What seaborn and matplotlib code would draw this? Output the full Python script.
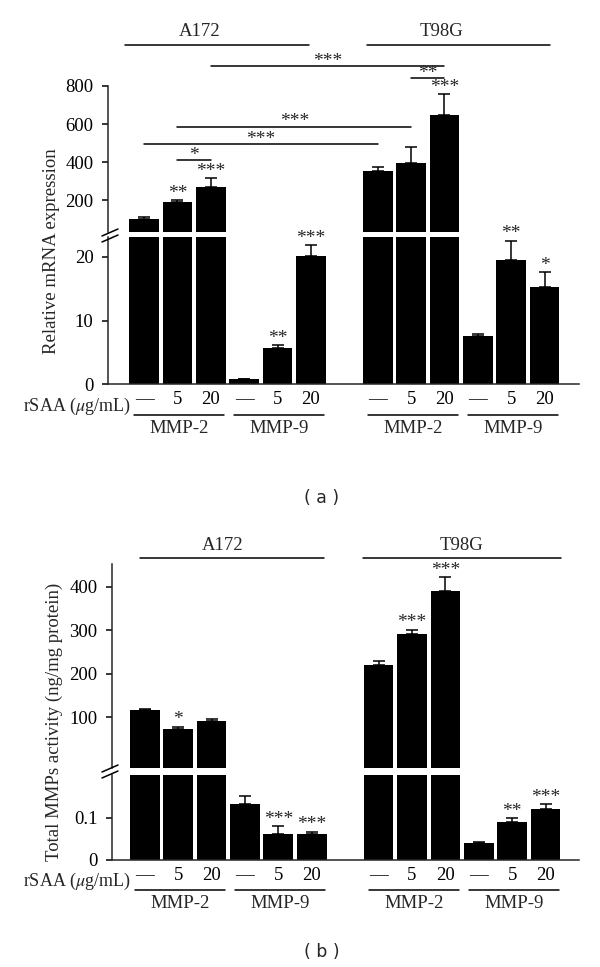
import matplotlib
matplotlib.use('Agg')
import matplotlib.pyplot as plt
import matplotlib.transforms as mtransforms
from matplotlib.lines import Line2D
import numpy as np
import pandas as pd
import seaborn as sns


# ── Data ──────────────────────────────────────────────────────────────────────
cells = ['A172', 'T98G']
genes = ['MMP-2', 'MMP-9']
doses = ['—', '5', '20']
positions = [0, 1, 2, 3, 4, 5, 7, 8, 9, 10, 11, 12]

# (a) relative mRNA expression, mean and upper error
mrna_a172_mmp2 = [100, 190, 268]
mrna_a172_mmp2_err = [10, 10, 48]
mrna_a172_mmp9 = [0.9, 5.7, 20.1]
mrna_a172_mmp9_err = [0.0, 0.45, 1.7]
mrna_t98g_mmp2 = [354, 396, 646]
mrna_t98g_mmp2_err = [21, 83, 112]
mrna_t98g_mmp9 = [7.6, 19.5, 15.2]
mrna_t98g_mmp9_err = [0.35, 3.0, 2.4]
mrna_sig = ['', '**', '***', '', '**', '***', '', '', '***', '', '**', '*']

# (b) total MMP activity (ng/mg protein)
act_a172_mmp2 = [117, 73, 91]
act_a172_mmp2_err = [2, 4.6, 4.6]
act_a172_mmp9 = [0.132, 0.061, 0.061]
act_a172_mmp9_err = [0.019, 0.018, 0.006]
act_t98g_mmp2 = [220, 290, 390]
act_t98g_mmp2_err = [10, 11, 32]
act_t98g_mmp9 = [0.039, 0.089, 0.119]
act_t98g_mmp9_err = [0.004, 0.009, 0.012]
act_sig = ['', '*', '', '', '***', '***', '', '***', '***', '', '**', '***']

# pairwise comparisons in (a): bar a, bar b, height (px), label
mrna_pairs = [(2, 9, 66, '***'), (8, 9, 78, '**'), (1, 8, 127, '***'),
              (0, 7, 144, '***'), (1, 2, 160, '*')]


def make_df(groups, errs, sigs):
    rows = []
    i = 0
    for c in cells:
        for g in genes:
            vals, ers = groups[(c, g)], errs[(c, g)]
            for d, v, e in zip(doses, vals, ers):
                rows.append({'pos': positions[i], 'cell': c, 'gene': g, 'dose': d,
                             'value': v, 'err': e, 'sig': sigs[i]})
                i += 1
    return pd.DataFrame(rows)


mrna = make_df({('A172', 'MMP-2'): mrna_a172_mmp2, ('A172', 'MMP-9'): mrna_a172_mmp9,
                ('T98G', 'MMP-2'): mrna_t98g_mmp2, ('T98G', 'MMP-9'): mrna_t98g_mmp9},
               {('A172', 'MMP-2'): mrna_a172_mmp2_err, ('A172', 'MMP-9'): mrna_a172_mmp9_err,
                ('T98G', 'MMP-2'): mrna_t98g_mmp2_err, ('T98G', 'MMP-9'): mrna_t98g_mmp9_err},
               mrna_sig)
act = make_df({('A172', 'MMP-2'): act_a172_mmp2, ('A172', 'MMP-9'): act_a172_mmp9,
               ('T98G', 'MMP-2'): act_t98g_mmp2, ('T98G', 'MMP-9'): act_t98g_mmp9},
              {('A172', 'MMP-2'): act_a172_mmp2_err, ('A172', 'MMP-9'): act_a172_mmp9_err,
               ('T98G', 'MMP-2'): act_t98g_mmp2_err, ('T98G', 'MMP-9'): act_t98g_mmp9_err},
              act_sig)


# ── Style ─────────────────────────────────────────────────────────────────────
sns.set_theme(style='ticks')
plt.rcParams['font.family'] = ['Liberation Serif', 'DejaVu Serif']
plt.rcParams['mathtext.fontset'] = 'stix'
FS = 13.5
STAR = 14
LW = 1.1

W, H = 600, 967
fig = plt.figure(figsize=(W / 100, H / 100), dpi=100)


def fx(x):
    return x / W


def fy(y):
    return 1 - y / H


def box(left, top, right, bottom):
    return [fx(left), fy(bottom), (right - left) / W, (bottom - top) / H]


def hline(x0, x1, y, transform=None):
    ln = Line2D([x0, x1], [y, y], color='black', lw=LW)
    if transform is not None:
        ln.set_transform(transform)
    fig.add_artist(ln)


def slashes(x0, x1, y_pairs):
    for ya, yb in y_pairs:
        fig.add_artist(Line2D([fx(x0), fx(x1)], [fy(ya), fy(yb)], color='black', lw=LW))


# ── Panel helper ──────────────────────────────────────────────────────────────
def draw_panel(df, hi_box, lo_box, hi_lim, lo_lim, hi_ticks, lo_ticks, lo_labels,
               xlim, tick_y, group_y, label_y, ylabel, ylabel_xy):
    ax_hi = fig.add_axes(hi_box)
    ax_lo = fig.add_axes(lo_box)
    big = df[df.gene == 'MMP-2']
    small = df[df.gene == 'MMP-9']

    sns.barplot(data=big, x='pos', y='value', native_scale=True, color='black',
                saturation=1, width=0.89, errorbar=None, linewidth=0, ax=ax_hi)
    # bars of the upper segment start at the segment's lower limit
    for p in ax_hi.patches:
        top = p.get_y() + p.get_height()
        p.set_y(hi_lim[0])
        p.set_height(top - hi_lim[0])
    sns.barplot(data=df, x='pos', y='value', native_scale=True, color='black',
                saturation=1, width=0.89, errorbar=None, linewidth=0, ax=ax_lo)

    for ax, d in ((ax_hi, big), (ax_lo, small)):
        ax.errorbar(d.pos, d.value, yerr=[np.zeros(len(d)), d.err], fmt='none',
                    ecolor='black', elinewidth=LW, capsize=4.3, capthick=LW, zorder=3)
        for _, r in d.iterrows():
            if r.sig:
                ax.annotate(r.sig, (r.pos, r.value + r.err), xytext=(0, 5),
                            textcoords='offset points', ha='center', va='center',
                            fontsize=STAR, annotation_clip=False)

    ax_hi.set_ylim(*hi_lim)
    ax_lo.set_ylim(*lo_lim)
    ax_hi.set_yticks(hi_ticks)
    ax_hi.set_yticklabels([str(t) for t in hi_ticks])
    ax_lo.set_yticks(lo_ticks)
    ax_lo.set_yticklabels(lo_labels)
    for ax in (ax_hi, ax_lo):
        ax.set_xlim(*xlim)
        ax.set_xlabel('')
        ax.set_ylabel('')
        ax.set_facecolor('none')
        ax.spines['top'].set_visible(False)
        ax.spines['right'].set_visible(False)
        ax.spines['left'].set_linewidth(LW)
        ax.spines['bottom'].set_linewidth(LW)
        ax.tick_params(axis='y', direction='out', length=4.5, width=LW,
                       labelsize=FS, pad=6, colors='black')
    ax_hi.spines['bottom'].set_visible(False)
    ax_hi.set_xticks([])
    ax_lo.set_xticks(positions)
    ax_lo.set_xticklabels(doses * 4, fontsize=FS)
    ax_lo.tick_params(axis='x', length=0, pad=5, colors='black')

    # group lines and gene names under the dose labels
    blend = mtransforms.blended_transform_factory(ax_lo.transData, fig.transFigure)
    for k in range(4):
        start = positions[3 * k]
        hline(start - 0.3, start + 2.4, fy(group_y), transform=blend)
        fig.text(start + 1.05, fy(label_y), genes[k % 2], transform=blend,
                 ha='center', va='center', fontsize=FS)
    fig.text(fx(131), fy(tick_y + 3), 'rSAA ($\\mu$g/mL)', ha='right', va='center', fontsize=13)
    fig.text(fx(ylabel_xy[0]), fy(ylabel_xy[1]), ylabel, rotation=90,
             ha='center', va='center', fontsize=FS)
    return ax_hi, ax_lo


# ── (a) mRNA expression ──────────────────────────────────────────────────────
a_hi, a_lo = draw_panel(mrna, box(108, 86, 579, 232), box(108, 237, 579, 384.3),
                        (32, 800), (0, 23.1), [200, 400, 600, 800], [0, 10, 20],
                        ['0', '10', '20'], (-1.08, 13.03), 403, 415, 429,
                        'Relative mRNA expression', (52, 251))
slashes(102, 118, [(236, 229), (242, 235)])

fig.text(fx(200), fy(32), 'A172', ha='center', va='center', fontsize=FS)
fig.text(fx(441), fy(32), 'T98G', ha='center', va='center', fontsize=FS)
hline(fx(125), fx(309), fy(45))
hline(fx(367), fx(550), fy(45))

blend_a = mtransforms.blended_transform_factory(a_hi.transData, fig.transFigure)
for pa, pb, y, lab in mrna_pairs:
    hline(pa, pb, fy(y), transform=blend_a)
    fig.text((pa + pb) / 2, fy(y - 5), lab, transform=blend_a,
             ha='center', va='center', fontsize=STAR)

fig.text(fx(322), fy(498), '( a )', ha='center', va='center', fontsize=12.5,
         family=['DejaVu Sans'])

# ── (b) MMP activity ─────────────────────────────────────────────────────────
b_hi, b_lo = draw_panel(act, box(112, 564, 579, 768), box(112, 775, 579, 860),
                        (-16.8, 452), (0, 0.2), [100, 200, 300, 400], [0, 0.1],
                        ['0', '0.1'], (-0.98, 13.0), 878, 890, 904,
                        'Total MMPs activity (ng/mg protein)', (54, 722))
slashes(102, 118, [(772, 765), (778, 771)])

fig.text(fx(223), fy(545), 'A172', ha='center', va='center', fontsize=FS)
fig.text(fx(462), fy(545), 'T98G', ha='center', va='center', fontsize=FS)
hline(fx(140), fx(324), fy(558))
hline(fx(363), fx(561), fy(558))

fig.text(fx(322), fy(952), '( b )', ha='center', va='center', fontsize=12.5,
         family=['DejaVu Sans'])

fig.savefig('out.png', dpi=100, facecolor='white')
